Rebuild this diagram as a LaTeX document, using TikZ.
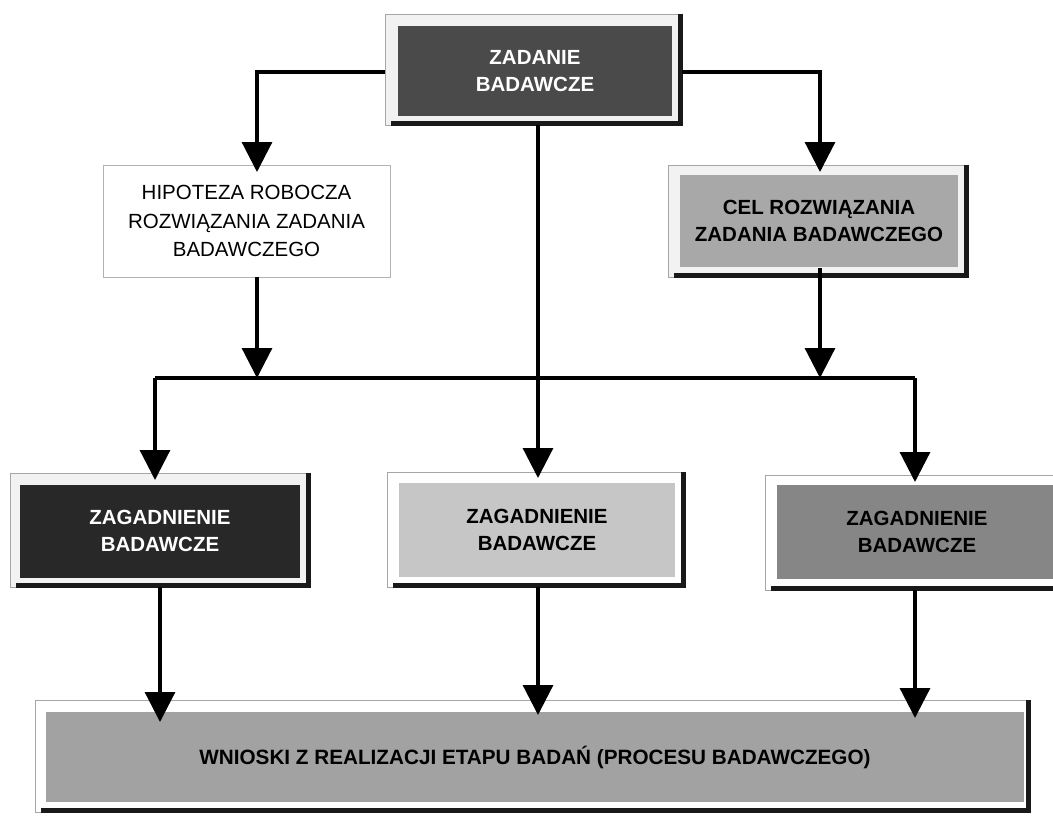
\documentclass[tikz,border=0pt]{standalone}
\usepackage{fontspec}
\setmainfont{Liberation Sans}
\usetikzlibrary{arrows.meta}
\definecolor{tIn}{HTML}{4A4A4A}
\definecolor{cIn}{HTML}{A8A8A8}
\definecolor{lIn}{HTML}{282828}
\definecolor{mIn}{HTML}{C6C6C6}
\definecolor{rIn}{HTML}{868686}
\definecolor{bIn}{HTML}{A2A2A2}
\definecolor{frameC}{HTML}{F2F2F2}
\begin{document}
\begin{tikzpicture}[x=1pt,y=-1pt,
  frame/.style={draw=gray!70, line width=0.8pt, fill=frameC, inner sep=0pt},
  plainbox/.style={draw=gray!60, line width=0.8pt, fill=white, inner sep=0pt},
  innerbox/.style={inner sep=0pt, align=center, font=\fontsize{20.5}{27}\selectfont\bfseries},
  shade/.style={line width=4.5pt, draw=black!90},
  conn/.style={line width=3.2pt, draw=black},
  arr/.style={conn, -{Triangle[length=30pt,width=30pt]}}]
\useasboundingbox (0,0) rectangle (1053,815);
\clip (0,0) rectangle (1053,815);

% top box
\node[frame, minimum width=297pt, minimum height=111pt] (T) at (533.5,69.5) {};
\draw[shade] ([xshift=-2pt]T.north east) -- ([xshift=-2pt,yshift=2pt]T.south east) -- ([xshift=6pt,yshift=2pt]T.south west);
\node[innerbox, fill=tIn, text=white, minimum width=274pt, minimum height=90pt] (Tt) at (535,71) {ZADANIE\\BADAWCZE};

% hypothesis
\node[plainbox, minimum width=287pt, minimum height=112pt, align=center,
  font=\fontsize{20.5}{28.5}\selectfont] (H) at (246.5,221) {HIPOTEZA ROBOCZA\\ROZWIĄZANIA ZADANIA\\BADAWCZEGO};

% goal
\node[frame, minimum width=300pt, minimum height=112pt] (C) at (818,221) {};
\draw[shade] ([xshift=-2pt]C.north east) -- ([xshift=-2pt,yshift=2pt]C.south east) -- ([xshift=6pt,yshift=2pt]C.south west);
\node[innerbox, fill=cIn, minimum width=278pt, minimum height=92pt] (Ct) at (819,221) {CEL ROZWIĄZANIA\\ZADANIA BADAWCZEGO};

% issues
\node[frame, minimum width=300pt, minimum height=114pt] (L) at (160,530) {};
\draw[shade] ([xshift=-2pt]L.north east) -- ([xshift=-2pt,yshift=2pt]L.south east) -- ([xshift=6pt,yshift=2pt]L.south west);
\node[innerbox, fill=lIn, text=white, minimum width=280pt, minimum height=93pt] (Lt) at (160,531) {ZAGADNIENIE\\BADAWCZE};

\node[frame, fill=white, minimum width=298pt, minimum height=115pt] (M) at (536,529.5) {};
\draw[shade] ([xshift=-2pt]M.north east) -- ([xshift=-2pt,yshift=2pt]M.south east) -- ([xshift=6pt,yshift=2pt]M.south west);
\node[innerbox, fill=mIn, minimum width=276pt, minimum height=94pt] (Mt) at (537,530) {ZAGADNIENIE\\BADAWCZE};

\node[frame, fill=white, minimum width=300pt, minimum height=115pt] (R) at (915,532.5) {};
\draw[shade] ([yshift=2pt]R.south east) -- ([xshift=6pt,yshift=2pt]R.south west);
\node[innerbox, fill=rIn, minimum width=280pt, minimum height=94pt] (Rt) at (917,532) {ZAGADNIENIE\\BADAWCZE};

% conclusions
\node[frame, fill=white, minimum width=995pt, minimum height=112pt] (B) at (532.5,756) {};
\draw[shade] ([xshift=-2pt]B.north east) -- ([xshift=-2pt,yshift=2pt]B.south east) -- ([xshift=6pt,yshift=2pt]B.south west);
\node[innerbox, fill=bIn, minimum width=978pt, minimum height=90pt,
  font=\fontsize{20.7}{27}\selectfont\bfseries] (Bt) at (535,757) {WNIOSKI Z REALIZACJI ETAPU BADAŃ (PROCESU BADAWCZEGO)};

% connector points
\coordinate (tW) at (385,72);
\coordinate (tE) at (682,72);
\coordinate (tS) at (538,125);
\coordinate (hIn) at (257,172);
\coordinate (cIn) at (820,172);
\coordinate (hOut) at (257,277);
\coordinate (cOut) at (820,268);
\coordinate (jH) at (257,378);
\coordinate (jC) at (820,378);
\coordinate (jL) at (155,378);
\coordinate (jR) at (915,378);
\coordinate (lIn) at (155,480);
\coordinate (mIn) at (538,478);
\coordinate (rIn) at (915,482);
\coordinate (lOut) at (160,587);
\coordinate (mOut) at (538,587);
\coordinate (rOut) at (915,590);
\coordinate (bL) at (160,722);
\coordinate (bM) at (538,715);
\coordinate (bR) at (915,718);

\draw[arr] (tW) -| (hIn);
\draw[arr] (tE) -| (cIn);
\draw[arr] (tS) -- (mIn);
\draw[arr] (hOut) -- (jH);
\draw[arr] (cOut) -- (jC);
\draw[conn] (jL) -- (jR);
\draw[arr] (jL) -- (lIn);
\draw[arr] (jR) -- (rIn);
\draw[arr] (lOut) -- (bL);
\draw[arr] (mOut) -- (bM);
\draw[arr] (rOut) -- (bR);
\end{tikzpicture}
\end{document}
